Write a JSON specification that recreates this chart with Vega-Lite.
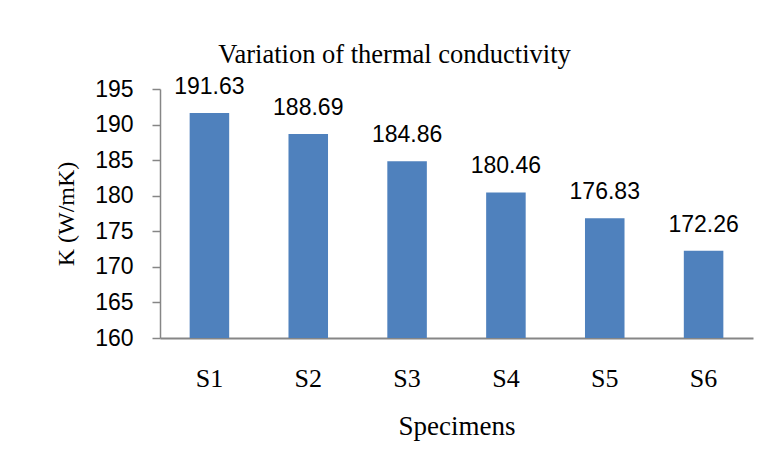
{
  "$schema": "https://vega.github.io/schema/vega-lite/v6.json",
  "width": 593,
  "height": 249,
  "autosize": {"type": "none"},
  "padding": {"left": 160, "top": 89, "right": 18, "bottom": 137},
  "background": "white",
  "title": {
    "text": "Variation of thermal conductivity",
    "font": "Liberation Serif",
    "fontSize": 26.5,
    "fontWeight": "normal",
    "color": "black",
    "anchor": "middle",
    "dx": -62,
    "offset": 7
  },
  "config": {"view": {"stroke": null}},
  "data": {
    "values": [
      {"specimen": "S1", "k": 191.63},
      {"specimen": "S2", "k": 188.69},
      {"specimen": "S3", "k": 184.86},
      {"specimen": "S4", "k": 180.46},
      {"specimen": "S5", "k": 176.83},
      {"specimen": "S6", "k": 172.26}
    ]
  },
  "encoding": {
    "x": {
      "field": "specimen",
      "type": "nominal",
      "sort": null,
      "scale": {"paddingInner": 0.6, "paddingOuter": 0.3},
      "axis": {
        "title": "Specimens",
        "titleFont": "Liberation Serif",
        "titleFontSize": 27,
        "titleFontWeight": "normal",
        "titleColor": "black",
        "titlePadding": 22,
        "labelFont": "Liberation Serif",
        "labelFontSize": 26,
        "labelColor": "black",
        "labelAngle": 0,
        "labelPadding": 27,
        "ticks": false,
        "domainColor": "#868686",
        "domainWidth": 2
      }
    },
    "y": {
      "field": "k",
      "type": "quantitative",
      "scale": {"domain": [160, 195], "zero": false, "nice": false},
      "axis": {
        "title": "K (W/mK)",
        "titleFont": "Liberation Serif",
        "titleFontSize": 24,
        "titleFontWeight": "normal",
        "titleColor": "black",
        "titlePadding": 16,
        "titleLimit": 300,
        "values": [160, 165, 170, 175, 180, 185, 190, 195],
        "labelFont": "Liberation Sans",
        "labelFontSize": 23,
        "labelColor": "black",
        "labelPadding": 19,
        "tickSize": 8,
        "tickColor": "#868686",
        "tickWidth": 1.5,
        "domainColor": "#868686",
        "domainWidth": 1.5,
        "grid": false
      }
    }
  },
  "layer": [
    {"mark": {"type": "bar", "color": "#4F81BD", "clip": true}},
    {
      "mark": {
        "type": "text",
        "font": "Liberation Sans",
        "fontSize": 23,
        "color": "black",
        "baseline": "alphabetic",
        "dy": -19
      },
      "encoding": {"text": {"field": "k", "type": "quantitative", "format": ".2f"}}
    }
  ]
}
